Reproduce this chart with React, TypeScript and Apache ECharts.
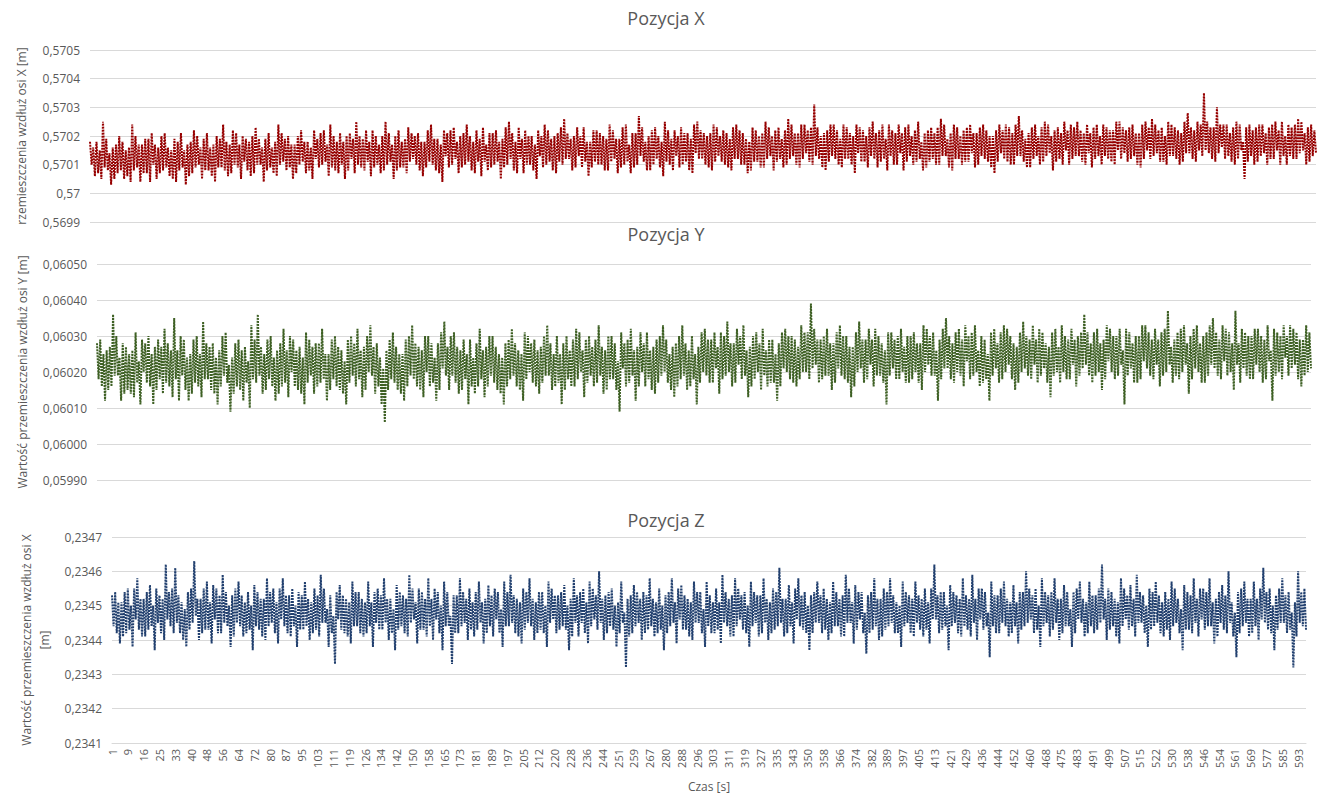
import React, { useEffect, useRef } from "react";
import * as echarts from "echarts";

// Time tick labels shown on the category axis (s)
const TICK_LABELS = [
  "1", "9", "16", "25", "33", "40", "48", "56", "64", "72",
  "80", "87", "95", "103", "111", "119", "126", "134", "142", "150",
  "158", "165", "173", "181", "189", "197", "205", "212", "220", "228",
  "236", "244", "251", "259", "267", "280", "288", "296", "303", "311",
  "319", "327", "335", "343", "350", "358", "366", "374", "382", "389",
  "397", "405", "413", "421", "429", "436", "444", "452", "460", "468",
  "475", "483", "491", "499", "507", "515", "522", "530", "538", "546",
  "554", "561", "569", "577", "585", "593",
];
const SAMPLES_PER_LABEL = 10;

// Position X: samples in 1e-5 m above 0.5700 m
const X_BASE = 0.57;
const X_OFFSETS = [
  18,10, 16,6, 18,7, 15,5, 25,9, 19,8, 14,3, 16,5, 17,7, 20,8,
  18,5, 15,6, 16,4, 24,8, 20,9, 17,4, 17,7, 19,7, 19,4, 21,10,
  17,5, 16,7, 20,8, 21,9, 16,6, 15,5, 19,4, 18,8, 21,9, 15,3,
  17,6, 18,7, 22,9, 20,10, 16,5, 19,8, 21,8, 16,6, 17,4, 20,9,
  19,9, 24,8, 18,6, 17,7, 22,10, 21,9, 17,5, 20,11, 19,8, 18,6,
  20,7, 23,10, 19,10, 16,4, 19,8, 21,9, 16,7, 18,6, 24,10, 21,11,
  19,8, 20,9, 17,5, 17,7, 20,10, 22,11, 18,7, 18,8, 16,5, 22,12,
  19,9, 21,10, 22,11, 17,6, 24,9, 20,8, 18,7, 21,10, 18,5, 20,8,
  21,12, 19,7, 25,10, 20,9, 19,8, 22,11, 18,6, 22,9, 20,10, 17,7,
  20,8, 25,10, 21,11, 17,5, 20,8, 22,9, 18,9, 19,7, 23,11, 21,12,
  20,10, 21,8, 18,6, 18,9, 22,11, 24,10, 19,8, 19,7, 17,4, 22,13,
  21,9, 22,10, 23,12, 18,7, 20,9, 21,10, 24,11, 20,8, 18,7, 22,11,
  19,6, 23,11, 17,8, 21,9, 21,10, 22,11, 18,5, 19,9, 23,10, 25,12,
  21,8, 18,7, 23,12, 19,7, 22,10, 20,10, 20,8, 17,5, 22,13, 20,9,
  24,10, 22,11, 19,8, 20,7, 21,11, 23,10, 26,12, 21,12, 19,8, 20,9,
  23,13, 20,9, 23,11, 18,6, 18,9, 22,11, 22,10, 21,10, 20,8, 19,8,
  24,11, 22,12, 19,7, 19,9, 23,10, 24,11, 17,7, 21,9, 21,10, 27,13,
  23,11, 18,8, 20,8, 22,10, 23,12, 20,9, 18,6, 25,11, 22,10, 19,8,
  22,13, 20,9, 23,10, 21,11, 21,8, 19,7, 24,14, 25,12, 22,12, 21,10,
  20,9, 21,8, 24,11, 23,13, 20,11, 22,10, 21,9, 19,8, 23,12, 24,12,
  22,10, 21,10, 19,7, 18,8, 23,11, 22,11, 20,9, 21,9, 25,12, 23,13,
  20,8, 22,11, 23,12, 19,9, 22,10, 26,12, 24,13, 21,10, 21,9, 24,12,
  24,14, 22,11, 23,10, 31,13, 23,12, 20,9, 21,8, 22,11, 24,13, 24,12,
  22,10, 19,9, 24,12, 23,12, 21,10, 20,7, 24,14, 23,11, 22,11, 20,9,
  23,13, 25,12, 21,9, 22,11, 24,12, 19,8, 24,13, 22,10, 21,10, 24,14,
  21,8, 23,11, 24,13, 20,10, 22,11, 25,12, 18,8, 21,9, 22,11, 23,12,
  21,10, 23,10, 26,13, 24,13, 19,9, 21,8, 24,12, 23,12, 20,10, 22,11,
  23,11, 24,14, 21,9, 21,10, 23,13, 24,12, 22,11, 20,9, 20,7, 22,11,
  24,14, 22,12, 24,11, 23,10, 21,10, 24,13, 27,13, 22,11, 19,9, 21,9,
  23,12, 24,13, 20,10, 23,11, 25,13, 24,14, 20,8, 22,11, 23,12, 21,10,
  25,15, 22,10, 24,12, 23,13, 25,13, 22,11, 21,10, 24,14, 21,9, 23,12,
  24,13, 20,10, 24,13, 23,12, 22,11, 22,10, 25,15, 25,12, 23,14, 22,11,
  23,12, 24,13, 21,10, 21,9, 24,12, 25,15, 23,12, 26,13, 24,14, 22,11,
  23,11, 20,10, 25,13, 24,13, 23,12, 22,10, 21,11, 25,14, 28,14, 23,12,
  22,11, 25,15, 24,13, 35,15, 25,14, 23,12, 23,11, 30,14, 24,16, 24,12,
  24,13, 21,11, 23,10, 25,12, 24,15, 18,5, 23,11, 24,13, 22,10, 23,11,
  24,13, 24,14, 21,10, 23,12, 24,12, 25,15, 22,10, 25,13, 20,10, 24,13,
  23,12, 24,12, 26,14, 25,15, 21,10, 23,11, 24,13, 22,14,
];

// Position Y: samples in 1e-5 m above 0.0600 m
const Y_BASE = 0.06;
const Y_OFFSETS = [
  28,18, 29,16, 25,12, 26,15, 27,16, 36,19, 30,19, 24,12, 28,14, 27,15,
  25,14, 26,13, 31,17, 23,11, 29,20, 28,17, 30,16, 25,11, 27,15, 29,18,
  27,14, 32,17, 28,16, 26,13, 35,18, 26,12, 30,19, 29,15, 24,12, 25,14,
  29,17, 30,16, 25,13, 34,18, 28,18, 27,15, 28,14, 24,11, 26,16, 30,19,
  31,17, 22,9, 24,14, 28,16, 29,15, 26,12, 27,17, 23,10, 33,18, 29,17,
  36,19, 27,14, 25,15, 29,18, 30,16, 24,12, 26,14, 28,16, 32,17, 26,13,
  30,20, 29,16, 26,15, 27,14, 24,11, 31,17, 29,19, 27,14, 28,16, 28,17,
  32,18, 25,12, 25,15, 29,18, 30,16, 27,15, 26,14, 23,11, 29,17, 30,19,
  28,16, 32,18, 26,13, 27,15, 30,20, 33,19, 27,14, 28,16, 24,11, 21,6,
  26,15, 29,18, 31,17, 27,15, 25,14, 25,12, 29,16, 30,19, 33,18, 28,16,
  27,15, 26,13, 30,20, 30,16, 28,17, 24,12, 28,15, 31,21, 34,19, 27,15,
  30,19, 31,17, 27,14, 26,15, 29,18, 25,11, 29,16, 24,14, 28,16, 32,18,
  26,13, 27,16, 30,19, 30,17, 27,15, 25,14, 24,11, 28,16, 29,18, 32,19,
  28,16, 26,15, 25,12, 31,18, 30,20, 28,17, 29,16, 26,14, 27,17, 30,19,
  33,19, 28,15, 25,16, 30,17, 25,11, 28,15, 30,18, 26,16, 29,16, 32,18,
  31,20, 26,13, 29,17, 30,19, 27,16, 29,17, 33,19, 27,14, 26,15, 30,18,
  30,18, 28,15, 23,9, 31,21, 28,16, 29,17, 32,19, 26,12, 27,16, 31,20,
  28,16, 31,18, 26,15, 27,14, 29,17, 30,19, 33,20, 29,17, 25,15, 27,13,
  28,16, 30,18, 33,19, 28,15, 26,16, 30,18, 25,11, 27,17, 31,20, 32,19,
  29,17, 29,17, 31,21, 27,14, 31,18, 30,19, 34,20, 28,16, 28,17, 32,22,
  30,18, 33,19, 26,13, 27,16, 30,18, 31,20, 28,15, 32,19, 26,16, 29,17,
  29,17, 25,12, 28,16, 31,21, 32,20, 30,18, 30,17, 29,16, 27,18, 33,20,
  31,20, 31,18, 39,21, 32,22, 29,17, 29,18, 30,19, 32,19, 28,15, 28,17,
  31,21, 33,19, 30,18, 30,17, 27,13, 27,16, 31,20, 34,21, 29,17, 29,18,
  32,22, 29,16, 32,19, 30,19, 28,17, 26,11, 31,19, 31,21, 29,18, 30,18,
  32,20, 27,17, 30,17, 30,18, 31,20, 28,17, 28,15, 33,20, 32,22, 30,19,
  31,19, 26,12, 29,18, 32,21, 35,21, 30,18, 28,17, 31,20, 32,19, 29,16,
  33,23, 30,18, 31,19, 33,20, 26,16, 30,17, 29,18, 25,12, 31,19, 32,21,
  28,17, 31,18, 33,20, 32,22, 30,18, 28,15, 27,17, 31,20, 34,21, 30,19,
  29,18, 33,22, 29,17, 32,19, 31,21, 28,17, 27,13, 31,19, 32,20, 27,17,
  33,20, 30,18, 29,18, 32,22, 29,16, 30,19, 31,21, 36,22, 31,19, 28,17,
  31,19, 32,20, 28,15, 29,18, 33,23, 32,20, 30,18, 30,19, 32,22, 26,11,
  32,19, 31,21, 28,17, 30,17, 30,18, 33,23, 33,21, 31,19, 29,18, 32,22,
  29,16, 31,19, 32,20, 37,22, 27,17, 29,19, 31,18, 32,20, 33,22, 28,14,
  30,18, 32,21, 33,20, 28,17, 30,17, 31,19, 33,22, 35,21, 31,19, 29,18,
  33,23, 32,19, 31,20, 28,15, 37,22, 28,17, 32,21, 31,19, 30,18, 30,18,
  32,22, 32,20, 30,17, 29,18, 33,23, 26,12, 32,19, 31,20, 30,18, 33,24,
  30,19, 33,21, 32,22, 31,18, 29,16, 29,19, 33,20, 31,21,
];

// Position Z: samples in 1e-5 m above 0.2340 m
const Z_BASE = 0.234;
const Z_OFFSETS = [
  53,44, 54,42, 51,39, 51,41, 54,42, 55,43, 50,38, 55,46, 58,43, 52,41,
  52,41, 54,43, 56,44, 50,37, 55,45, 53,42, 52,40, 62,46, 54,44, 55,42,
  61,45, 53,42, 51,40, 49,38, 54,43, 55,45, 63,47, 52,40, 52,42, 55,43,
  57,43, 51,39, 56,46, 55,42, 53,42, 59,45, 54,44, 50,38, 53,41, 55,45,
  57,44, 53,41, 51,42, 54,43, 50,37, 56,44, 54,43, 52,41, 52,40, 58,44,
  54,45, 55,42, 51,39, 55,46, 58,44, 53,42, 53,41, 55,44, 50,38, 54,43,
  53,43, 57,44, 52,40, 51,42, 55,43, 53,41, 59,45, 55,45, 49,38, 53,42,
  47,33, 54,46, 56,43, 53,42, 52,41, 51,39, 57,44, 54,44, 54,42, 52,41,
  51,42, 57,44, 51,38, 54,45, 55,43, 53,43, 58,45, 52,40, 52,42, 49,37,
  56,43, 54,44, 53,42, 52,41, 59,45, 55,46, 51,39, 55,43, 54,43, 52,41,
  58,44, 52,40, 55,46, 54,42, 50,37, 57,44, 54,44, 47,33, 53,42, 53,42,
  58,44, 54,45, 52,40, 55,43, 51,41, 54,43, 57,45, 51,39, 52,42, 56,44,
  53,41, 55,46, 54,42, 49,38, 57,44, 54,44, 59,45, 53,42, 52,41, 51,39,
  55,43, 54,45, 58,44, 52,40, 51,42, 54,43, 54,42, 50,38, 57,45, 55,46,
  53,42, 53,43, 54,44, 56,43, 50,37, 52,41, 58,45, 53,41, 54,45, 55,42,
  51,39, 57,44, 55,46, 53,43, 60,45, 52,40, 53,42, 54,44, 55,43, 50,38,
  51,42, 57,45, 48,32, 52,41, 53,42, 56,44, 54,45, 52,40, 54,42, 53,43,
  58,44, 52,41, 51,42, 55,43, 50,37, 53,42, 54,44, 58,45, 51,39, 55,46,
  56,43, 53,43, 52,41, 51,40, 57,45, 54,45, 54,42, 49,38, 57,44, 53,42,
  51,42, 55,43, 51,39, 59,45, 54,44, 52,41, 53,41, 58,44, 55,46, 53,43,
  54,42, 50,38, 57,44, 54,45, 53,41, 53,42, 58,45, 52,40, 51,42, 55,43,
  54,44, 61,45, 52,41, 52,42, 56,44, 51,39, 55,46, 58,44, 53,43, 54,42,
  50,37, 53,42, 54,45, 57,45, 53,42, 55,43, 52,40, 51,42, 57,44, 54,44,
  52,41, 53,41, 59,45, 55,45, 51,39, 56,43, 54,46, 54,42, 48,36, 53,42,
  54,43, 58,44, 52,40, 52,41, 55,43, 54,44, 58,45, 53,42, 51,42, 50,38,
  57,44, 54,45, 53,42, 52,41, 57,45, 53,43, 52,41, 55,43, 51,39, 55,46,
  62,46, 53,42, 54,43, 54,44, 50,37, 56,44, 54,45, 53,42, 52,41, 58,44,
  53,43, 52,41, 59,45, 52,40, 55,46, 55,43, 54,44, 48,35, 57,44, 53,42,
  53,42, 55,45, 57,44, 52,41, 51,42, 56,44, 51,39, 54,43, 54,44, 60,45,
  55,46, 53,42, 55,43, 50,38, 58,44, 54,45, 53,41, 54,43, 58,45, 52,40,
  52,42, 56,44, 54,44, 49,38, 54,42, 55,46, 57,45, 52,41, 51,42, 57,44,
  53,42, 53,43, 55,45, 62,46, 52,40, 55,43, 54,44, 52,41, 51,39, 58,44,
  55,46, 53,43, 56,44, 52,41, 59,45, 54,45, 53,42, 50,38, 55,43, 54,44,
  57,45, 53,42, 51,41, 54,43, 52,40, 57,44, 55,45, 52,42, 49,37, 56,43,
  54,43, 53,42, 58,45, 52,41, 55,46, 55,43, 54,44, 58,44, 51,39, 52,41,
  54,45, 56,43, 53,42, 60,45, 51,41, 48,35, 54,42, 55,44, 57,45, 52,41,
  52,42, 57,44, 52,40, 55,46, 61,45, 54,43, 55,42, 50,37, 53,43, 55,45,
  58,45, 53,42, 54,43, 48,32, 51,41, 60,45, 54,44, 55,43,
];

const TITLES = ["Pozycja X", "Pozycja Y", "Pozycja Z"];
const Y_NAMES = [
  "rzemieszczenia wzdłuż osi X [m]",
  "Wartość przemieszczenia wzdłuż osi Y [m]",
  "Wartość przemieszczenia wzdłuż osi X\n[m]",
];
const X_NAME = "Czas [s]";
const COLORS = ["#960000", "#3E6024", "#22406F"];

const FONT = "'Open Sans', 'Noto Sans', sans-serif";
const TEXT_COLOR = "#595959";
const GRID_COLOR = "#D9D9D9";

function toValues(base: number, offsets: number[]) {
  return offsets.map((v) => +(base + v / 100000).toFixed(6));
}

function fmt(decimals: number, trim: boolean) {
  return (v: number) => {
    let s = v.toFixed(decimals);
    if (trim) s = s.replace(/0+$/, "").replace(/\.$/, "");
    return s.replace(".", ",");
  };
}

export default function App() {
  const ref = useRef<HTMLDivElement>(null);

  useEffect(() => {
    if (!ref.current) return;
    const chart = echarts.init(ref.current, undefined, { renderer: "svg" });

    const seriesData = [
      toValues(X_BASE, X_OFFSETS),
      toValues(Y_BASE, Y_OFFSETS),
      toValues(Z_BASE, Z_OFFSETS),
    ];
    const count = Z_OFFSETS.length;
    const categories: string[] = [];
    for (let i = 0; i < count; i++) {
      const k = Math.min(Math.floor(i / SAMPLES_PER_LABEL), TICK_LABELS.length - 1);
      categories.push(TICK_LABELS[k]);
    }

    const grids = [
      { left: 90, right: 3, top: 50, height: 172 },
      { left: 97, right: 8, top: 264, height: 216 },
      { left: 112, right: 13, top: 537, height: 206 },
    ];
    const yRanges = [
      { min: 0.5699, max: 0.5705, dec: 4, trim: true, gap: 60 },
      { min: 0.0599, max: 0.0605, dec: 5, trim: false, gap: 66 },
      { min: 0.2341, max: 0.2347, dec: 4, trim: false, gap: 57 },
    ];
    const titleTops = [9, 225, 511];

    chart.setOption({
      animation: false,
      backgroundColor: "#ffffff",
      textStyle: { fontFamily: FONT },
      title: TITLES.map((t, i) => ({
        text: t,
        left: 666,
        textAlign: "center",
        top: titleTops[i],
        padding: 0,
        textStyle: { fontSize: 18, fontWeight: "normal", color: TEXT_COLOR, fontFamily: FONT },
      })),
      grid: grids.map((g) => ({ ...g, containLabel: false })),
      xAxis: grids.map((_, i) => ({
        type: "category",
        gridIndex: i,
        data: categories,
        boundaryGap: false,
        show: i === 2,
        axisLine: { show: true, lineStyle: { color: GRID_COLOR, width: 1 } },
        axisTick: { show: false },
        splitLine: { show: false },
        axisLabel: {
          interval: SAMPLES_PER_LABEL - 1,
          rotate: 90,
          fontSize: 11,
          color: TEXT_COLOR,
          margin: 6,
          fontFamily: FONT,
        },
        name: i === 2 ? X_NAME : "",
        nameLocation: "middle",
        nameGap: 37,
        nameTextStyle: { fontSize: 12, color: TEXT_COLOR, fontFamily: FONT },
      })),
      yAxis: yRanges.map((r, i) => ({
        type: "value",
        gridIndex: i,
        min: r.min,
        max: r.max,
        interval: 0.0001,
        axisLine: { show: false },
        axisTick: { show: false },
        splitLine: { show: true, lineStyle: { color: GRID_COLOR, width: 1 } },
        axisLabel: {
          formatter: fmt(r.dec, r.trim),
          fontSize: 12,
          color: TEXT_COLOR,
          margin: 10,
          fontFamily: FONT,
        },
        name: Y_NAMES[i],
        nameLocation: "middle",
        nameGap: r.gap,
        nameTextStyle: {
          fontSize: 12,
          color: TEXT_COLOR,
          fontFamily: FONT,
          lineHeight: 18,
          align: "center",
        },
      })),
      series: seriesData.map((d, i) => ({
        type: "line",
        xAxisIndex: i,
        yAxisIndex: i,
        data: d,
        showSymbol: false,
        symbol: "none",
        lineStyle: { color: COLORS[i], width: 2, type: [2, 1] },
        silent: true,
      })),
    });

    return () => chart.dispose();
  }, []);

  return (
    <div
      ref={ref}
      style={{ position: "fixed", left: 0, top: 0, width: 1319, height: 800, background: "#fff" }}
    />
  );
}
